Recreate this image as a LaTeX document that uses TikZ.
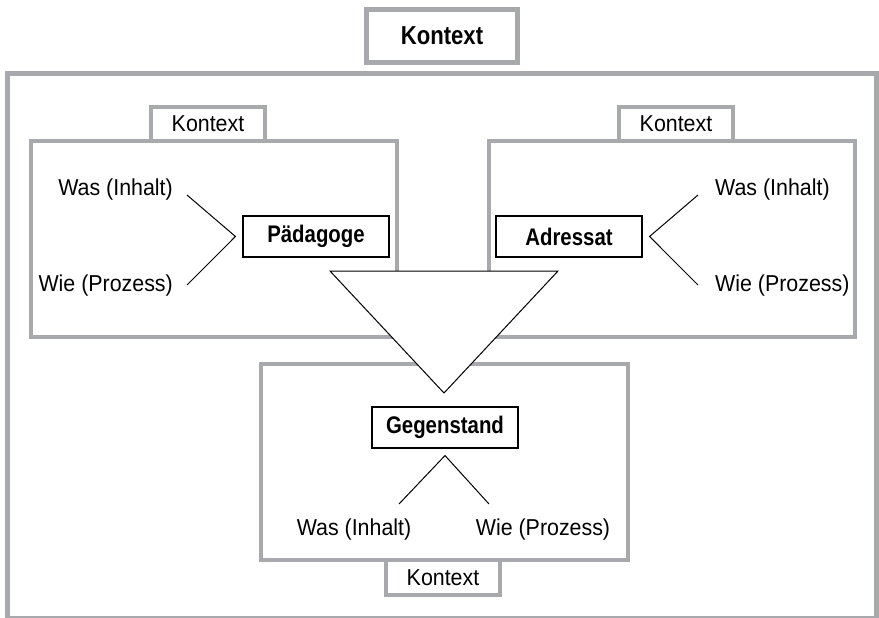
\documentclass[tikz,border=0pt]{standalone}
\usepackage{fontspec}
\setmainfont{Liberation Sans}[FakeStretch=0.93,BoldFeatures={FakeStretch=0.85}]
\begin{document}
\definecolor{framegray}{RGB}{167,169,172}
\begin{tikzpicture}[x=1pt,y=-1pt,
  graybox/.style={draw=framegray,line width=4pt,fill=white,inner sep=0pt},
  tabbox/.style={graybox,minimum width=114pt,minimum height=34pt,
    font=\fontsize{23}{26}\selectfont},
  keybox/.style={draw=black,line width=1.1pt,fill=white,inner sep=0pt,
    minimum width=146pt,minimum height=41pt,
    font=\fontsize{24}{28}\selectfont\bfseries},
  label/.style={inner sep=0pt,font=\fontsize{23}{26}\selectfont},
  fork/.style={draw=black,line width=1pt}]
\useasboundingbox (0,0) rectangle (879,618);
\fill[white] (0,0) rectangle (879,618);

% outer frame and the title box
\draw[draw=framegray,line width=5pt] (7.5,73.5) rectangle (876.5,618.5);
\node[graybox,line width=5pt,minimum width=151pt,minimum height=53pt,
  font=\fontsize{26}{30}\selectfont\bfseries] (title) at (442,36) {Kontext};

% three context boxes with their tabs
\node[graybox,minimum width=366pt,minimum height=196pt] (lbox) at (214,239) {};
\node[graybox,minimum width=366pt,minimum height=196pt] (rbox) at (672,239) {};
\node[graybox,minimum width=367pt,minimum height=196pt] (bbox) at (444.5,462) {};
\node[tabbox] (ltab) at (208,124) {Kontext};
\node[tabbox] (rtab) at (676,124) {Kontext};
\node[tabbox,minimum height=35pt] (btab) at (443,577.5) {Kontext};

% central triangle
\coordinate (tl) at (330,271);
\coordinate (tr) at (558,271);
\coordinate (tb) at (444,393);
\filldraw[fill=white,draw=black,line width=1pt] (tl) -- (tr) -- (tb) -- cycle;

% key terms
\node[keybox] (paed) at (316,236.5) {Pädagoge};
\node[keybox] (adr) at (569,236.5) {Adressat};
\node[keybox] (geg) at (445,427.5) {Gegenstand};

% left fork
\node[label,anchor=east] (lwas) at (173,190) {Was (Inhalt)};
\node[label,anchor=east] (lwie) at (173,286) {Wie (Prozess)};
\coordinate (lv) at ([xshift=-7pt]paed.west);
\draw[fork] ([xshift=14pt,yshift=-5pt]lwas.east) -- (lv) -- ([xshift=14pt,yshift=1pt]lwie.east);

% right fork
\node[label,anchor=west] (rwas) at (715,190) {Was (Inhalt)};
\node[label,anchor=west] (rwie) at (715,286) {Wie (Prozess)};
\coordinate (rv) at ([xshift=7pt]adr.east);
\draw[fork] ([xshift=-17pt,yshift=-5pt]rwas.west) -- (rv) -- ([xshift=-17pt,yshift=1pt]rwie.west);

% bottom fork
\node[label] (bwas) at (354,530) {Was (Inhalt)};
\node[label] (bwie) at (543,530) {Wie (Prozess)};
\coordinate (bv) at ([yshift=-7pt]geg.south);
\draw[fork] (399,504) -- (bv) -- (489,504);
\end{tikzpicture}
\end{document}
